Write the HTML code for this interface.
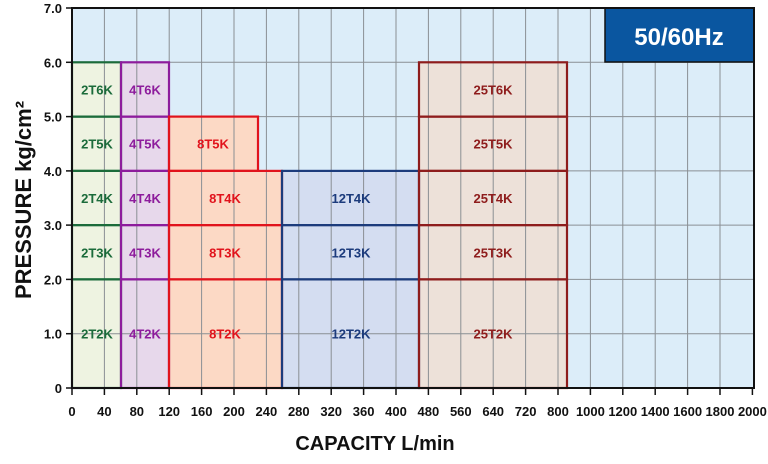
<!DOCTYPE html><html><head><style>body{margin:0;background:#fff}svg{display:block}text{font-family:"Liberation Sans",Arial,sans-serif;font-weight:bold}</style></head><body>
<svg width="768" height="464" viewBox="0 0 768 464" xmlns="http://www.w3.org/2000/svg">
<rect x="72" y="8" width="682" height="380" fill="#dcedf9"/>
<rect x="72" y="62.3" width="49" height="325.7" fill="#eef3e1"/>
<rect x="121" y="62.3" width="48" height="325.7" fill="#e7d8eb"/>
<rect x="169" y="170.9" width="113" height="217.1" fill="#fcd9c5"/>
<rect x="169" y="116.6" width="89" height="54.3" fill="#fcd9c5"/>
<rect x="282" y="170.9" width="137" height="217.1" fill="#d4ddf1"/>
<rect x="419" y="62.3" width="148" height="325.7" fill="#ede1d9"/>
<g stroke="#8a8f94" stroke-width="1">
<line x1="104.4" y1="8" x2="104.4" y2="388"/><line x1="136.8" y1="8" x2="136.8" y2="388"/><line x1="169.2" y1="8" x2="169.2" y2="388"/><line x1="201.6" y1="8" x2="201.6" y2="388"/><line x1="234" y1="8" x2="234" y2="388"/><line x1="266.4" y1="8" x2="266.4" y2="388"/><line x1="298.8" y1="8" x2="298.8" y2="388"/><line x1="331.2" y1="8" x2="331.2" y2="388"/><line x1="363.6" y1="8" x2="363.6" y2="388"/><line x1="396" y1="8" x2="396" y2="388"/><line x1="428.4" y1="8" x2="428.4" y2="388"/><line x1="460.8" y1="8" x2="460.8" y2="388"/><line x1="493.2" y1="8" x2="493.2" y2="388"/><line x1="525.6" y1="8" x2="525.6" y2="388"/><line x1="558" y1="8" x2="558" y2="388"/><line x1="590.4" y1="8" x2="590.4" y2="388"/><line x1="622.8" y1="8" x2="622.8" y2="388"/><line x1="655.2" y1="8" x2="655.2" y2="388"/><line x1="687.6" y1="8" x2="687.6" y2="388"/><line x1="720" y1="8" x2="720" y2="388"/>
<line x1="72" y1="333.7" x2="754" y2="333.7"/><line x1="72" y1="279.4" x2="754" y2="279.4"/><line x1="72" y1="225.1" x2="754" y2="225.1"/><line x1="72" y1="170.9" x2="754" y2="170.9"/><line x1="72" y1="116.6" x2="754" y2="116.6"/><line x1="72" y1="62.3" x2="754" y2="62.3"/>
</g>
<g fill="none" stroke-width="2.2">
<g stroke="#1b6b3a"><rect x="72" y="279.4" width="49" height="108.6"/><rect x="72" y="225.1" width="49" height="54.3"/><rect x="72" y="170.9" width="49" height="54.2"/><rect x="72" y="116.6" width="49" height="54.3"/><rect x="72" y="62.3" width="49" height="54.3"/></g>
<g stroke="#8d1c9c"><rect x="121" y="279.4" width="48" height="108.6"/><rect x="121" y="225.1" width="48" height="54.3"/><rect x="121" y="170.9" width="48" height="54.2"/><rect x="121" y="116.6" width="48" height="54.3"/><rect x="121" y="62.3" width="48" height="54.3"/></g>
<g stroke="#e1131c"><rect x="169" y="279.4" width="113" height="108.6"/><rect x="169" y="225.1" width="113" height="54.3"/><rect x="169" y="170.9" width="113" height="54.2"/><rect x="169" y="116.6" width="89" height="54.3"/></g>
<g stroke="#1c3b7c"><rect x="282" y="279.4" width="137" height="108.6"/><rect x="282" y="225.1" width="137" height="54.3"/><rect x="282" y="170.9" width="137" height="54.2"/></g>
<g stroke="#8e1c1c"><rect x="419" y="279.4" width="148" height="108.6"/><rect x="419" y="225.1" width="148" height="54.3"/><rect x="419" y="170.9" width="148" height="54.2"/><rect x="419" y="116.6" width="148" height="54.3"/><rect x="419" y="62.3" width="148" height="54.3"/></g>
</g>
<g font-size="13" text-anchor="middle">
<g fill="#1b6b3a"><text x="97" y="338.7">2T2K</text><text x="97" y="257.3">2T3K</text><text x="97" y="203">2T4K</text><text x="97" y="148.7">2T5K</text><text x="97" y="94.5">2T6K</text></g>
<g fill="#8d1c9c"><text x="145" y="338.7">4T2K</text><text x="145" y="257.3">4T3K</text><text x="145" y="203">4T4K</text><text x="145" y="148.7">4T5K</text><text x="145" y="94.5">4T6K</text></g>
<g fill="#e1131c"><text x="225" y="338.7">8T2K</text><text x="225" y="257.3">8T3K</text><text x="225" y="203">8T4K</text><text x="213" y="148.7">8T5K</text></g>
<g fill="#1c3b7c"><text x="351" y="338.7">12T2K</text><text x="351" y="257.3">12T3K</text><text x="351" y="203">12T4K</text></g>
<g fill="#8e1c1c"><text x="493" y="338.7">25T2K</text><text x="493" y="257.3">25T3K</text><text x="493" y="203">25T4K</text><text x="493" y="148.7">25T5K</text><text x="493" y="94.5">25T6K</text></g>
</g>
<rect x="605" y="8" width="149" height="54" fill="#0a56a0" stroke="#111" stroke-width="1.5"/>
<text x="679" y="45" font-size="24" fill="#fff" text-anchor="middle">50/60Hz</text>
<rect x="72" y="8" width="682" height="380" fill="none" stroke="#111" stroke-width="2"/>
<g stroke="#111" stroke-width="1.5">
<line x1="72" y1="388" x2="72" y2="395"/><line x1="104.4" y1="388" x2="104.4" y2="395"/><line x1="136.8" y1="388" x2="136.8" y2="395"/><line x1="169.2" y1="388" x2="169.2" y2="395"/><line x1="201.6" y1="388" x2="201.6" y2="395"/><line x1="234" y1="388" x2="234" y2="395"/><line x1="266.4" y1="388" x2="266.4" y2="395"/><line x1="298.8" y1="388" x2="298.8" y2="395"/><line x1="331.2" y1="388" x2="331.2" y2="395"/><line x1="363.6" y1="388" x2="363.6" y2="395"/><line x1="396" y1="388" x2="396" y2="395"/><line x1="428.4" y1="388" x2="428.4" y2="395"/><line x1="460.8" y1="388" x2="460.8" y2="395"/><line x1="493.2" y1="388" x2="493.2" y2="395"/><line x1="525.6" y1="388" x2="525.6" y2="395"/><line x1="558" y1="388" x2="558" y2="395"/><line x1="590.4" y1="388" x2="590.4" y2="395"/><line x1="622.8" y1="388" x2="622.8" y2="395"/><line x1="655.2" y1="388" x2="655.2" y2="395"/><line x1="687.6" y1="388" x2="687.6" y2="395"/><line x1="720" y1="388" x2="720" y2="395"/><line x1="752.4" y1="388" x2="752.4" y2="395"/>
<line x1="66" y1="388" x2="72" y2="388"/><line x1="66" y1="333.7" x2="72" y2="333.7"/><line x1="66" y1="279.4" x2="72" y2="279.4"/><line x1="66" y1="225.1" x2="72" y2="225.1"/><line x1="66" y1="170.9" x2="72" y2="170.9"/><line x1="66" y1="116.6" x2="72" y2="116.6"/><line x1="66" y1="62.3" x2="72" y2="62.3"/><line x1="66" y1="8" x2="72" y2="8"/>
</g>
<g font-size="13" fill="#111" text-anchor="middle">
<text x="72" y="416">0</text><text x="104.4" y="416">40</text><text x="136.8" y="416">80</text><text x="169.2" y="416">120</text><text x="201.6" y="416">160</text><text x="234" y="416">200</text><text x="266.4" y="416">240</text><text x="298.8" y="416">280</text><text x="331.2" y="416">320</text><text x="363.6" y="416">360</text><text x="396" y="416">400</text><text x="428.4" y="416">480</text><text x="460.8" y="416">560</text><text x="493.2" y="416">640</text><text x="525.6" y="416">720</text><text x="558" y="416">800</text><text x="590.4" y="416">1000</text><text x="622.8" y="416">1200</text><text x="655.2" y="416">1400</text><text x="687.6" y="416">1600</text><text x="720" y="416">1800</text><text x="752.4" y="416">2000</text>
</g>
<g font-size="13" fill="#111" text-anchor="end">
<text x="62" y="393">0</text><text x="62" y="338.7">1.0</text><text x="62" y="284.4">2.0</text><text x="62" y="230.1">3.0</text><text x="62" y="175.9">4.0</text><text x="62" y="121.6">5.0</text><text x="62" y="67.3">6.0</text><text x="62" y="13">7.0</text>
</g>
<text x="375" y="450" font-size="20" fill="#111" text-anchor="middle">CAPACITY L/min</text>
<text transform="translate(31,200) rotate(-90)" font-size="22" fill="#111" text-anchor="middle">PRESSURE  kg/cm²</text>
</svg></body></html>
